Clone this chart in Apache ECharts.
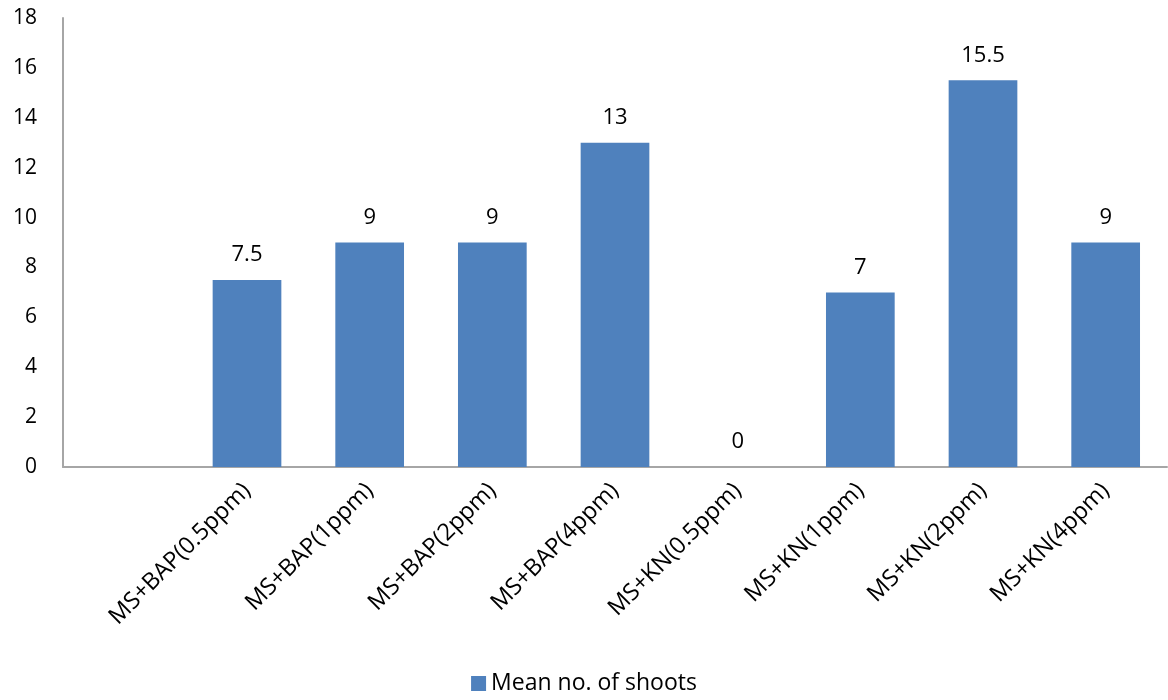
<!DOCTYPE html>
<html>
<head>
<meta charset="utf-8">
<script src="https://cdn.jsdelivr.net/npm/echarts@6/dist/echarts.min.js"></script>
<style>html,body{margin:0;padding:0;background:#fff}#c{width:1168px;height:700px}</style>
</head>
<body>
<div id="c"></div>
<script>
const categories = ['', 'MS+BAP(0.5ppm)', 'MS+BAP(1ppm)', 'MS+BAP(2ppm)', 'MS+BAP(4ppm)', 'MS+KN(0.5ppm)', 'MS+KN(1ppm)', 'MS+KN(2ppm)', 'MS+KN(4ppm)'];
const meanShoots = [null, 7.5, 9, 9, 13, 0, 7, 15.5, 9];
const seriesName = 'Mean no. of shoots';
const yTicks = { min: 0, max: 18, interval: 2 };

const chart = echarts.init(document.getElementById('c'));
const font = '"Open Sans", sans-serif';
chart.setOption({
  animation: false,
  textStyle: { fontFamily: font },
  grid: { left: 63, right: 1, top: 18, bottom: 233, containLabel: false },
  legend: {
    bottom: 0, left: 'center',
    itemWidth: 15, itemHeight: 15, itemGap: 5,
    icon: 'rect',
    textStyle: { fontSize: 23, color: '#000', fontFamily: font },
    data: [seriesName]
  },
  xAxis: {
    type: 'category',
    data: categories,
    axisLine: { lineStyle: { color: '#a6a6a6', width: 2 } },
    axisTick: { show: false },
    axisLabel: { interval: 0, rotate: 45, fontSize: 23.5, color: '#000', margin: 20, fontFamily: font }
  },
  yAxis: {
    type: 'value',
    min: yTicks.min, max: yTicks.max, interval: yTicks.interval,
    axisLine: { show: true, lineStyle: { color: '#a6a6a6', width: 2 } },
    axisTick: { show: false },
    splitLine: { show: false },
    axisLabel: { fontSize: 21, color: '#000', margin: 26, fontFamily: font }
  },
  series: [{
    name: seriesName,
    type: 'bar',
    data: meanShoots,
    barCategoryGap: '44%',
    itemStyle: { color: '#4f81bd' },
    label: { show: true, position: 'top', distance: 14, fontSize: 22, color: '#000', fontFamily: font }
  }]
});
</script>
</body>
</html>
